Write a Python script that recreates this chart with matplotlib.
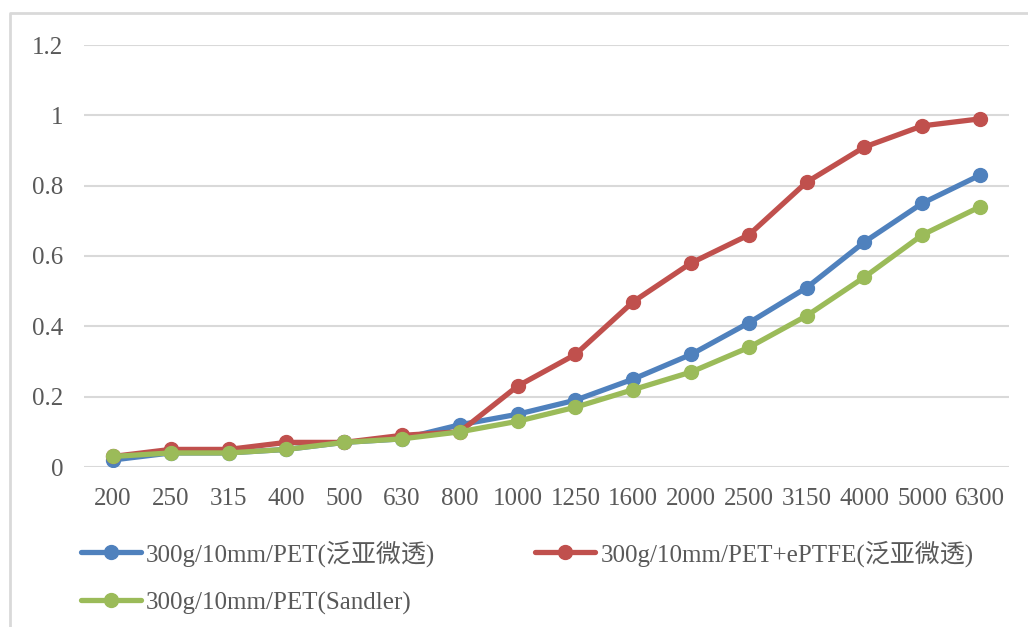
import matplotlib
matplotlib.use("Agg")
import matplotlib.pyplot as plt
from matplotlib.lines import Line2D

plt.rcParams['font.family'] = ['Liberation Serif', 'Noto Sans CJK SC']

categories = ['200', '250', '315', '400', '500', '630', '800', '1000', '1250',
              '1600', '2000', '2500', '3150', '4000', '5000', '6300']
pet_fanya = [0.02, 0.04, 0.04, 0.05, 0.07, 0.08, 0.12, 0.15, 0.19, 0.25,
             0.32, 0.41, 0.51, 0.64, 0.75, 0.83]
pet_eptfe = [0.03, 0.05, 0.05, 0.07, 0.07, 0.09, 0.10, 0.23, 0.32, 0.47,
             0.58, 0.66, 0.81, 0.91, 0.97, 0.99]
pet_sandler = [0.03, 0.04, 0.04, 0.05, 0.07, 0.08, 0.10, 0.13, 0.17, 0.22,
               0.27, 0.34, 0.43, 0.54, 0.66, 0.74]
labels = ['300g/10mm/PET(泛亚微透)', '300g/10mm/PET+ePTFE(泛亚微透)',
          '300g/10mm/PET(Sandler)']
colors = ['#4F81BD', '#C0504D', '#9BBB59']
yticks = [0, 0.2, 0.4, 0.6, 0.8, 1.0, 1.2]
ytick_labels = ['0', '0.2', '0.4', '0.6', '0.8', '1', '1.2']

W, H = 1028, 627
fig = plt.figure(figsize=(W / 100, H / 100), dpi=100)
ax = fig.add_axes([84 / W, 1 - 467 / H, (1009 - 84) / W, (467 - 45) / H])

x = list(range(len(categories)))
series = [pet_fanya, pet_eptfe, pet_sandler]
lines = []
for vals, lab, c in zip(series, labels, colors):
    ln, = ax.plot(x, vals, color=c, lw=3.8, marker='o', markersize=10,
                  solid_capstyle='round', label=lab, zorder=3)
    lines.append(ln)

ax.set_xlim(-0.5, len(categories) - 0.5)
ax.set_ylim(0, 1.2)
ax.set_yticks(yticks)
ax.set_yticklabels(ytick_labels)
ax.set_xticks(x)
ax.set_xticklabels(categories)
ax.grid(axis='y', color='#D9D9D9', lw=1.5, zorder=0)
ax.grid(axis='x', visible=False)
for s in ax.spines.values():
    s.set_visible(False)
ax.tick_params(axis='both', length=0, labelsize=18, labelcolor='#595959')
ax.tick_params(axis='y', pad=15)
ax.tick_params(axis='x', pad=15)

# chart border (left and top visible in reference)
fig.add_artist(Line2D([10 / W, 10 / W, 1.0], [0.0, 1 - 13 / H, 1 - 13 / H],
                      transform=fig.transFigure, color='#D9D9D9', lw=2))

handles = [lines[0], lines[2], lines[1]]
hlabels = [labels[0], labels[2], labels[1]]
leg = fig.legend(handles, hlabels, ncol=2, loc='upper left',
                 bbox_to_anchor=(71 / W, 1 - 530 / H), frameon=False,
                 fontsize=18, handlelength=2.4, handletextpad=0.2,
                 columnspacing=4.0, labelspacing=1.0, borderaxespad=0)
for t in leg.get_texts():
    t.set_color('#595959')

fig.savefig('out.png', dpi=100, facecolor='white')
